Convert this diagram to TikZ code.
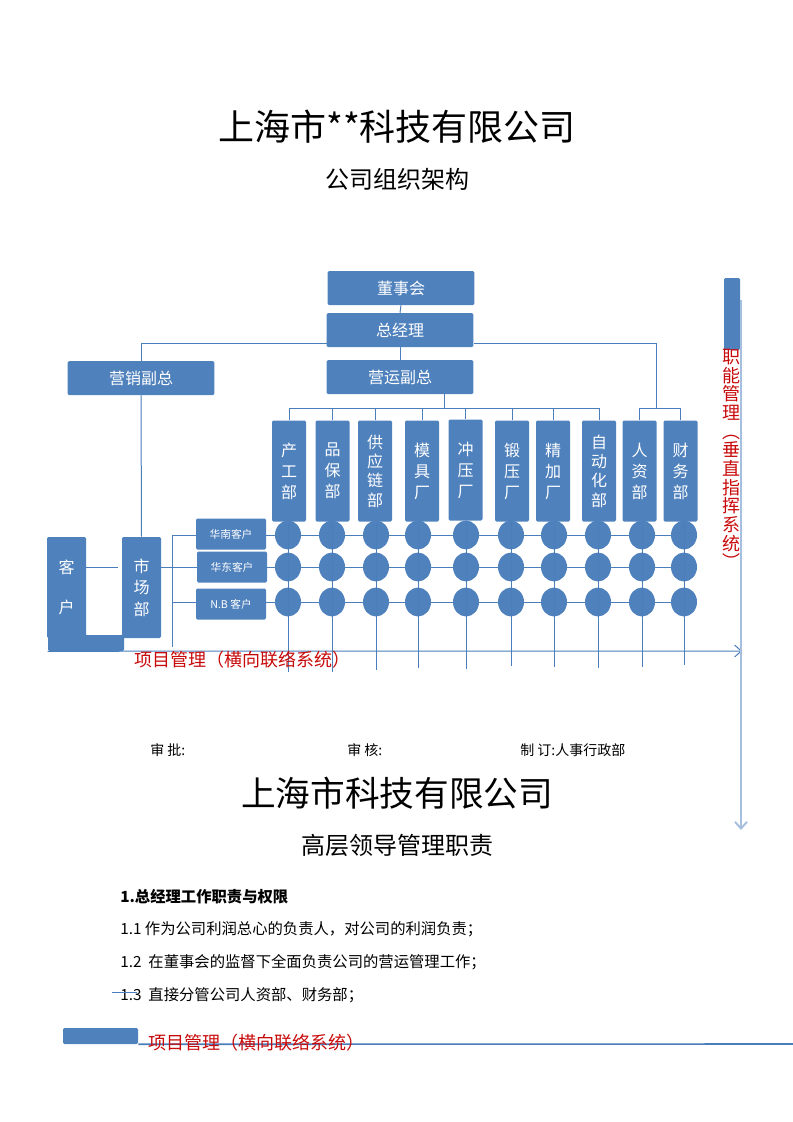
\documentclass[tikz,border=0pt]{standalone}
\usepackage{fontspec}
\setmainfont{Noto Sans CJK SC}
\usetikzlibrary{arrows.meta,shapes.geometric,backgrounds}

\definecolor{boxblue}{RGB}{79,129,189}
\definecolor{lineblue}{RGB}{74,126,187}
\definecolor{lightblue}{RGB}{167,191,222}
\definecolor{notered}{RGB}{200,10,10}

\tikzset{
  box/.style={fill=boxblue, text=white, rounded corners=1pt, inner sep=0pt, font=\fontsize{12}{15}\selectfont},
  headbox/.style={box, minimum width=110pt, minimum height=25.5pt},
  colbox/.style={box, minimum width=25.5pt, minimum height=75.75pt, align=center, font=\fontsize{12}{15.75}\selectfont},
  custbox/.style={box, minimum width=52.5pt, minimum height=23.25pt, font=\fontsize{8}{8}\selectfont},
  sidebox/.style={box, minimum width=29.25pt, minimum height=75.75pt, align=center},
  dot/.style={ellipse, fill=boxblue, minimum width=19.5pt, minimum height=21.75pt, inner sep=0pt},
  link/.style={draw=lineblue, line width=0.75pt},
  redtxt/.style={text=notered, inner sep=0pt, font=\fontsize{13.5}{14}\selectfont},
  signtxt/.style={anchor=west, inner sep=0pt, font=\fontsize{10.5}{10.5}\selectfont},
  bodytxt/.style={anchor=west, inner sep=0pt, font=\fontsize{11.5}{11.5}\selectfont},
}

\begin{document}
\begin{tikzpicture}[x=0.75pt,y=-0.75pt]
\useasboundingbox (0,0) rectangle (793,1122);

% titles
\node[font=\fontsize{27}{27}\selectfont] (title) at (397,127) {上海市**科技有限公司};
\node[font=\fontsize{18}{18}\selectfont] (subtitle) at (397,179) {公司组织架构};

% leaders
\node[headbox] (dsh) at (401,288) {董事会};
\node[headbox] (zjl) at (400,330) {总经理};
\node[headbox] (yyfz) at (400,377) {营运副总};
\node[headbox] (yxfz) at (141,378) {营销副总};

% departments
\node[colbox] (b1) at (289,471) {产\\工\\部};
\node[colbox] (b2) at (332.5,471) {品\\保\\部};
\node[colbox, font=\fontsize{12}{14.5}\selectfont] (b3) at (375,471) {供\\应\\链\\部};
\node[colbox] (b4) at (422,471) {模\\具\\厂};
\node[colbox] (b5) at (465.5,470) {冲\\压\\厂};
\node[colbox] (b6) at (512,471) {锻\\压\\厂};
\node[colbox] (b7) at (553,471) {精\\加\\厂};
\node[colbox, font=\fontsize{12}{14.5}\selectfont] (b8) at (599,471) {自\\动\\化\\部};
\node[colbox] (b9) at (639.5,471) {人\\资\\部};
\node[colbox] (b10) at (680.5,471) {财\\务\\部};

% project grid
\foreach \x [count=\j] in {288,332,376,418,466,511,554,598,642,684}
  \foreach \y [count=\i] in {535,567,602}
    \node[dot] (c\i-\j) at (\x,\y) {};

% vertical lines of command
\coordinate (zjlL) at (327,343);
\coordinate (zjlR) at (474,343);
\coordinate (brL) at (444,408);
\coordinate (brR) at (656,408);
\draw[link] (dsh.south) -- (zjl.north);
\draw[link] (zjl.south) -- (yyfz.north);
\draw[link] (zjlL) -| (yxfz.north);
\draw[link] (zjlR) -| (brR);
\draw[link] (yyfz.south -| brL) -- (brL);
\draw[link] (b1.north |- brL) -- (b8.north |- brL);
\draw[link] (b9.north |- brR) -- (b10.north |- brR);
\foreach \j in {1,...,8}
  \draw[link] (b\j.north |- brL) -- (b\j.north);
\foreach \j in {9,10}
  \draw[link] (b\j.north |- brR) -- (b\j.north);
\foreach \j/\e in {1/672,2/672,3/670,4/668,5/669,6/666,7/667,8/668,9/667,10/665}
  \draw[link] (b\j.south -| c1-\j) -- (c1-\j |- 0,\e);

% market side
\node[custbox] (hn) at (231,534) {华南客户};
\node[custbox] (hd) at (232,567) {华东客户};
\node[custbox] (nb) at (231,604) {N.B 客户};
\node[sidebox, font=\fontsize{12}{30}\selectfont] (kh) at (66.5,587.5) {客\\户};
\node[box, minimum width=57pt, minimum height=12pt] (khb) at (86,643) {};
\node[sidebox, font=\fontsize{12}{16}\selectfont] (scb) at (141.5,587.5) {市\\场\\部};
\draw[link] (yxfz.south) -- (scb.north);

\coordinate (v1) at (172,535);
\coordinate (v2) at (172,647);
\begin{scope}[on background layer]
\draw[link] (v1) -- (v2);
\draw[link] (v1) -- (c1-10);
\draw[link] (scb.east |- c2-1) -- (c2-10);
\draw[link] (v1 |- c3-1) -- (c3-10);
\draw[link] (kh.east |- c2-1) -- ([xshift=-3pt]scb.west |- c2-1);
\end{scope}

% horizontal axis
\coordinate (pmR) at (742,651);
\draw[link, -{Straight Barb[length=5pt,width=9pt]}] (khb.south west) -- (pmR);
\node[redtxt] (pm) at (242,660) {项目管理（横向联络系统）};

% vertical axis
\node[box, minimum width=12pt, minimum height=54pt] (zn) at (732,314) {};
\coordinate (vt) at (741,300);
\coordinate (vb) at (741,830);
\draw[draw=lightblue, line width=1.5pt, -{Straight Barb[length=5pt,width=9pt]}] (vt) -- (vb);
\node[redtxt, align=center] (znt) at (731,459) {职\\能\\管\\理\\︵\\垂\\直\\指\\挥\\系\\统\\︶};

% sign-off
\node[signtxt] (sp) at (150,750) {审 批:};
\node[signtxt] (sh) at (347,750) {审 核:};
\node[signtxt] (zd) at (520,750) {制 订:人事行政部};

% duties
\node[font=\fontsize{26}{26}\selectfont] (title2) at (397,793) {上海市科技有限公司};
\node[font=\fontsize{18}{18}\selectfont] (subtitle2) at (397,845) {高层领导管理职责};
\node[bodytxt, font=\fontsize{11.5}{11.5}\selectfont\bfseries] (h1) at (120,897) {1.总经理工作职责与权限};
\node[bodytxt] (l1) at (120,929) {1.1 作为公司利润总心的负责人，对公司的利润负责；};
\node[bodytxt] (l2) at (120,962) {1.2 \ 在董事会的监督下全面负责公司的营运管理工作；};
\node[bodytxt] (l3) at (120,995) {1.3 \ 直接分管公司人资部、财务部；};
\coordinate (slL) at (112,992);
\coordinate (slR) at (137,992);
\draw[link] (slL) -- (slR);

% footer
\node[box, minimum width=56.25pt, minimum height=12pt] (pb) at (100.5,1036) {};
\coordinate (pbR) at (793,1044);
\draw[link, line width=1.2pt] (pb.south east) -- (pbR);
\node[redtxt] (pm2) at (256,1043) {项目管理（横向联络系统）};
\end{tikzpicture}
\end{document}
